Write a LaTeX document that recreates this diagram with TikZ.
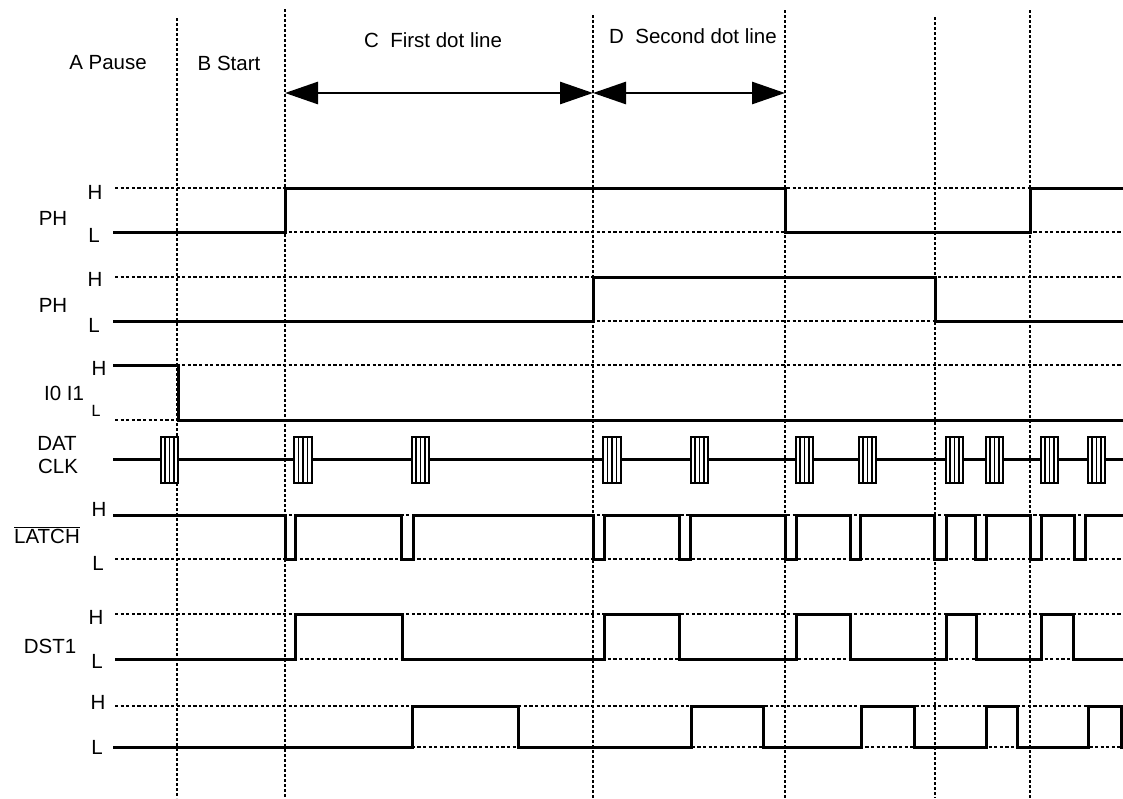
\documentclass[tikz,border=0pt]{standalone}
\usepackage{fontspec}
\setmainfont{Liberation Sans}
\newfontfamily\monofont{Liberation Mono}
\usetikzlibrary{arrows.meta}
\begin{document}
\begin{tikzpicture}[x=1pt,y=-1pt,
  grid/.style={line width=2.5pt,dash pattern=on 3.2pt off 2.4pt},
  vgrid/.style={line width=2.8pt,dash pattern=on 3pt off 2pt},
  sig/.style={line width=3pt,line join=miter},
  lbl/.style={inner sep=0pt,font=\fontsize{20.5}{24}\selectfont},
  small/.style={inner sep=0pt,font=\monofont\fontsize{17}{19}\selectfont},
  dim/.style={line width=2.8pt,{Triangle[length=33pt,width=22pt]}-{Triangle[length=33pt,width=22pt]}},
  hbox/.style={line width=2.4pt,fill=white}]
\useasboundingbox (0,0) rectangle (1123,798);

% header texts
\node[lbl] (tA) at (108,63) {A Pause};
\node[lbl] (tB) at (229,63) {B Start};
\node[lbl] (tC) at (433,40) {C\ \ First dot line};
\node[lbl] (tD) at (693,36) {D\ \ Second dot line};

% horizontal dotted reference lines
\foreach \y in {188,232,277,321,365,420,515,559,614,659,706,747}
  \draw[grid] (115,\y) -- (1123,\y);

% vertical dotted lines
\coordinate (v1t) at (177,18);  \coordinate (v1b) at (177,798);
\coordinate (v2t) at (285,9);   \coordinate (v2b) at (285,798);
\coordinate (v3t) at (593,15);  \coordinate (v3b) at (593,798);
\coordinate (v4t) at (785,10);  \coordinate (v4b) at (785,798);
\coordinate (v5t) at (935,17);  \coordinate (v5b) at (935,798);
\coordinate (v6t) at (1030,10); \coordinate (v6b) at (1030,798);
\foreach \i in {1,...,6} \draw[vgrid] (v\i t) -- (v\i b);

% dimension arrows
\coordinate (a1) at (285,93);
\coordinate (a2) at (593,93);
\coordinate (a3) at (785,93);
\draw[dim] (a1) -- (a2);
\draw[dim] (a2) -- (a3);

% PH row 1
\node[lbl] (ph1) at (53,218) {PH};
\node[lbl] (ph1h) at (95,192) {H};
\node[lbl] (ph1l) at (94,235) {L};
\draw[sig] (113,232) -- (285,232) -- (285,188) -- (785,188) -- (785,232) -- (1030,232) -- (1030,188) -- (1123,188);

% PH row 2
\node[lbl] (ph2) at (53,305) {PH};
\node[lbl] (ph2h) at (95,279) {H};
\node[lbl] (ph2l) at (94,325) {L};
\draw[sig] (113,321) -- (593,321) -- (593,277) -- (935,277) -- (935,321) -- (1123,321);

% I0 I1
\node[lbl] (io) at (64,393) {I0 I1};
\node[lbl] (ioh) at (99,368) {H};
\node[small] (iol) at (96,411) {L};
\draw[sig] (113,365) -- (178,365) -- (178,420) -- (1123,420);

% DAT CLK
\node[lbl] (dat) at (57,443) {DAT};
\node[lbl] (clk) at (58,466) {CLK};
\draw[sig] (113,459) -- (1123,459);
\foreach \a/\b in {161/178,294/312,412/429,603/621,691/708,796/813,859/876,946/963,986/1003,1041/1058,1088/1105}{
  \draw[hbox] (\a,437) rectangle (\b,483);
  \foreach \k in {1,2,3}
    \draw[line width=1.8pt] ({\a+\k*(\b-\a)/4},437) -- ({\a+\k*(\b-\a)/4},483);
}

% LATCH
\node[lbl] (lh) at (99,509) {H};
\node[lbl] (latch) at (47,535) {$\overline{\mbox{LATCH}}$};
\node[lbl] (ll) at (98,563) {L};
\draw[sig] (113,515) foreach \a/\b in {285/295,401/413,593/604,679/690,785/796,850/860,934/946,975/986,1030/1041,1074/1085} { -- (\a,515) -- (\a,559) -- (\b,559) -- (\b,515) } -- (1123,515);

% DST1
\node[lbl] (dh) at (96,617) {H};
\node[lbl] (dst) at (50,646) {DST1};
\node[lbl] (dl) at (97,661) {L};
\draw[sig] (115,659) foreach \a/\b in {295/402,604/679,796/850,946/976,1041/1073} { -- (\a,659) -- (\a,614) -- (\b,614) -- (\b,659) } -- (1123,659);

% last row
\node[lbl] (rh) at (98,702) {H};
\node[lbl] (rl) at (97,747) {L};
\draw[sig] (113,747) foreach \a/\b in {412/518,691/763,861/914,986/1017,1088/1121} { -- (\a,747) -- (\a,706) -- (\b,706) -- (\b,747) } -- (1123,747);
\end{tikzpicture}
\end{document}
